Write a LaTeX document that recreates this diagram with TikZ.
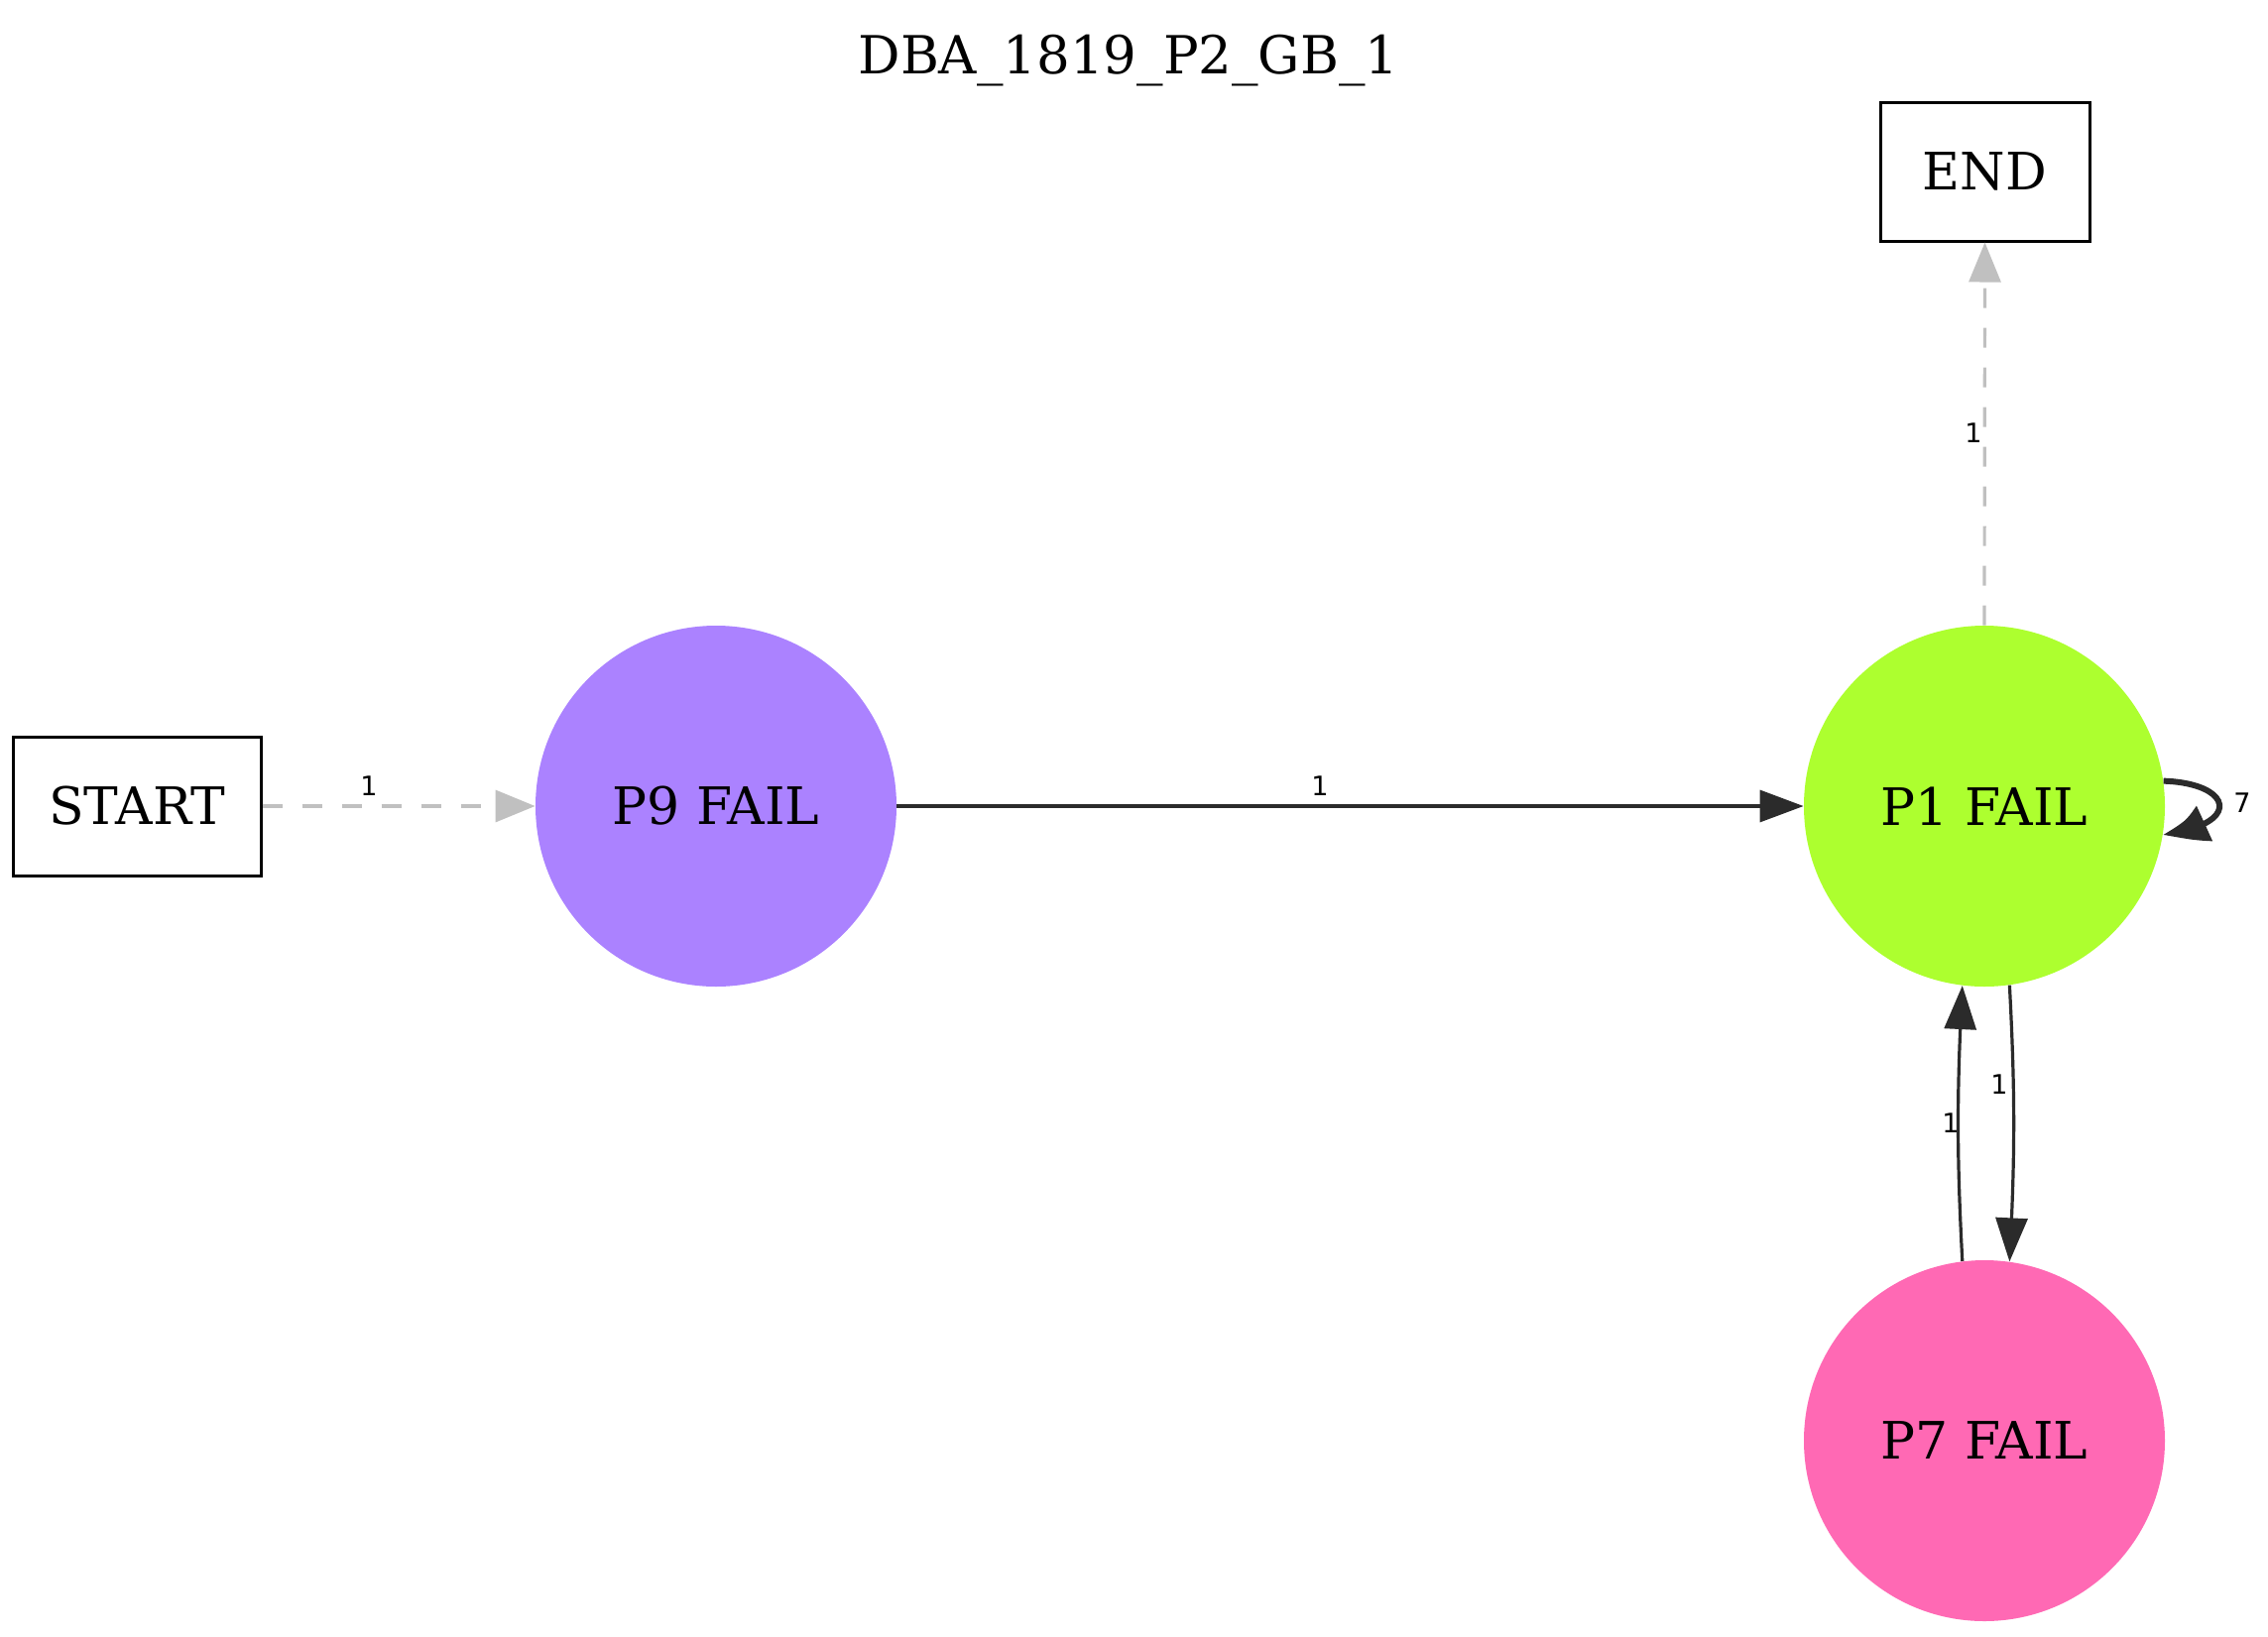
\documentclass[tikz,border=0pt]{standalone}
\usepackage{fontspec}
\setmainfont{DejaVu Serif}
\newfontfamily\labelfont{DejaVu Sans}
\usetikzlibrary{arrows.meta,bending}
\definecolor{edgedark}{HTML}{2B2B2B}
\definecolor{edgelight}{HTML}{C0C0C0}
\definecolor{purplenode}{HTML}{AB82FF}
\definecolor{greennode}{HTML}{ADFF2F}
\definecolor{pinknode}{HTML}{FF69B4}
\tikzset{
  statenode/.style={circle, minimum size=182pt, inner sep=0pt, font=\fontsize{26}{30}\selectfont},
  termbox/.style={draw=black, line width=1.5pt, minimum height=70pt, inner sep=0pt, font=\fontsize{26}{30}\selectfont},
  darkedge/.style={draw=edgedark, line width=1.6pt, -{Triangle[length=22pt,width=16pt]}},
  lightedge/.style={draw=edgelight, line width=1.6pt, dash pattern=on 10pt off 10pt, -{Triangle[length=20pt,width=16pt]}},
  loopedge/.style={draw=edgedark, line width=3pt, -{Triangle[length=25pt,width=18pt,bend]}},
  elabel/.style={inner sep=0pt, font=\labelfont\fontsize{13.5}{15}\selectfont},
}
\begin{document}
\begin{tikzpicture}[x=0.5pt,y=-0.5pt]
\useasboundingbox (0,0) rectangle (2287,1650);
\node[anchor=base, font=\fontsize{26.5}{30}\selectfont] (title) at (1138,74) {DBA\_1819\_P2\_GB\_1};
\node[termbox, minimum width=125pt] (start) at (138,813) {START};
\node[termbox, minimum width=105.5pt] (end) at (2001.5,173) {END};
\node[statenode, fill=purplenode] (p9) at (722,813) {P9 FAIL};
\node[statenode, fill=greennode] (p1) at (2001,813) {P1 FAIL};
\node[statenode, fill=pinknode] (p7) at (2001,1453) {P7 FAIL};
\draw[lightedge] (start.east) -- (p9.west);
\node[elabel] (l1) at (372,793) {1};
\draw[darkedge] (p9.east) -- (p1.west);
\node[elabel] (l2) at (1331,793) {1};
\draw[lightedge] (p1.north) -- (end.south);
\node[elabel] (l3) at (1990,437) {1};
\draw[darkedge] (p7.97.6) to[bend left=3] (p1.-97.6);
\node[elabel] (l4) at (1967,1133) {1};
\draw[darkedge] (p1.-82.1) to[bend left=3] (p7.82.1);
\node[elabel] (l5) at (2016,1094) {1};
\draw[loopedge] (p1.8) .. controls (2252,790) and (2262,832) .. (p1.-9);
\node[elabel] (l6) at (2261,810) {7};
\end{tikzpicture}
\end{document}
